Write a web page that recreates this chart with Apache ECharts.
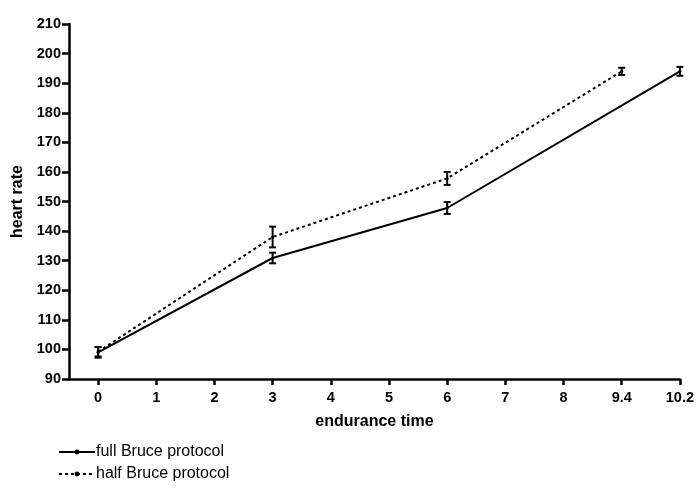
<!DOCTYPE html>
<html>
<head>
<meta charset="utf-8">
<script src="https://cdn.jsdelivr.net/npm/echarts@6/dist/echarts.min.js"></script>
<style>
html,body{margin:0;padding:0;background:#fff;}
#chart{width:697px;height:489px;}
</style>
</head>
<body>
<div id="chart"></div>
<script>
// Tick labels of the endurance-time axis (equally spaced)
var xLabels = ["0", "1", "2", "3", "4", "5", "6", "7", "8", "9.4", "10.2"];
var yTicks = [90, 100, 110, 120, 130, 140, 150, 160, 170, 180, 190, 200, 210];

// full Bruce protocol
var fullX = ["0", "3", "6", "10.2"];
var fullMean = [99.0, 130.9, 147.8, 194.0];
var fullErr = [1.8, 1.8, 2.0, 1.5];

// half Bruce protocol
var halfX = ["0", "3", "6", "9.4"];
var halfMean = [99.2, 138.0, 157.8, 194.0];
var halfErr = [1.6, 3.5, 2.2, 1.2];

var seriesNames = ['full Bruce protocol', 'half Bruce protocol'];

function pts(xs, ms) {
  return xs.map(function (x, i) { return [xLabels.indexOf(x), ms[i]]; });
}
function errPts(xs, ms, es) {
  return xs.map(function (x, i) { return [xLabels.indexOf(x), ms[i] - es[i], ms[i] + es[i]]; });
}

function renderErr(params, api) {
  var x = api.value(0);
  var lo = api.coord([x, api.value(1)]);
  var hi = api.coord([x, api.value(2)]);
  var w = 3.5;
  var st = { stroke: '#000', lineWidth: 2 };
  return {
    type: 'group',
    children: [
      { type: 'line', shape: { x1: hi[0], y1: hi[1], x2: lo[0], y2: lo[1] }, style: st },
      { type: 'line', shape: { x1: hi[0] - w, y1: hi[1], x2: hi[0] + w, y2: hi[1] }, style: st },
      { type: 'line', shape: { x1: lo[0] - w, y1: lo[1], x2: lo[0] + w, y2: lo[1] }, style: st }
    ]
  };
}

var ticksIdx = xLabels.map(function (_, i) { return i; });
var font = 'Liberation Sans, Arial';

function legendAt(name, top) {
  return {
    left: 58,
    top: top,
    itemWidth: 36,
    itemHeight: 6,
    padding: 0,
    textStyle: { fontFamily: font, fontSize: 16, color: '#000', padding: [0, 0, 0, -4] },
    data: [name]
  };
}

var chart = echarts.init(document.getElementById('chart'), null, { renderer: 'canvas' });
chart.setOption({
  animation: false,
  backgroundColor: '#fff',
  grid: { left: 69, right: 13, top: 24, bottom: 110, containLabel: false },
  xAxis: {
    type: 'value',
    min: -0.5,
    max: 10,
    name: 'endurance time',
    nameLocation: 'middle',
    nameGap: 35,
    nameTextStyle: { fontFamily: font, fontWeight: 'bold', fontSize: 16, color: '#000' },
    axisLine: { show: true, onZero: false, lineStyle: { color: '#000', width: 2.5 } },
    axisTick: { show: true, customValues: ticksIdx, length: 6, lineStyle: { color: '#000', width: 2.5 } },
    axisLabel: {
      customValues: ticksIdx,
      margin: 11,
      fontFamily: font, fontWeight: 'bold', fontSize: 14.5, color: '#000',
      formatter: function (v) { return xLabels[Math.round(v)]; }
    },
    splitLine: { show: false }
  },
  yAxis: {
    type: 'value',
    min: yTicks[0],
    max: yTicks[yTicks.length - 1],
    interval: 10,
    name: 'heart rate',
    nameLocation: 'middle',
    nameRotate: 90,
    nameGap: 42,
    nameTextStyle: { fontFamily: font, fontWeight: 'bold', fontSize: 16, color: '#000' },
    axisLine: { show: true, onZero: false, lineStyle: { color: '#000', width: 2.5 } },
    axisTick: { show: true, length: 7, lineStyle: { color: '#000', width: 2.5 } },
    axisLabel: { margin: 8, fontFamily: font, fontWeight: 'bold', fontSize: 14.5, color: '#000' },
    splitLine: { show: false }
  },
  legend: [legendAt(seriesNames[0], 444), legendAt(seriesNames[1], 466)],
  series: [
    {
      name: seriesNames[0],
      type: 'line',
      data: pts(fullX, fullMean),
      symbol: 'circle',
      symbolSize: 3,
      itemStyle: { color: '#000' },
      lineStyle: { color: '#000', width: 2 },
      z: 3
    },
    {
      name: seriesNames[1],
      type: 'line',
      data: pts(halfX, halfMean),
      symbol: 'circle',
      symbolSize: 3,
      itemStyle: { color: '#000' },
      lineStyle: { color: '#000', width: 2, type: [3, 3] },
      z: 3
    },
    {
      type: 'custom',
      renderItem: renderErr,
      data: errPts(fullX, fullMean, fullErr),
      encode: { x: 0, y: [1, 2] },
      z: 4,
      silent: true
    },
    {
      type: 'custom',
      renderItem: renderErr,
      data: errPts(halfX, halfMean, halfErr),
      encode: { x: 0, y: [1, 2] },
      z: 4,
      silent: true
    }
  ]
});
</script>
</body>
</html>
